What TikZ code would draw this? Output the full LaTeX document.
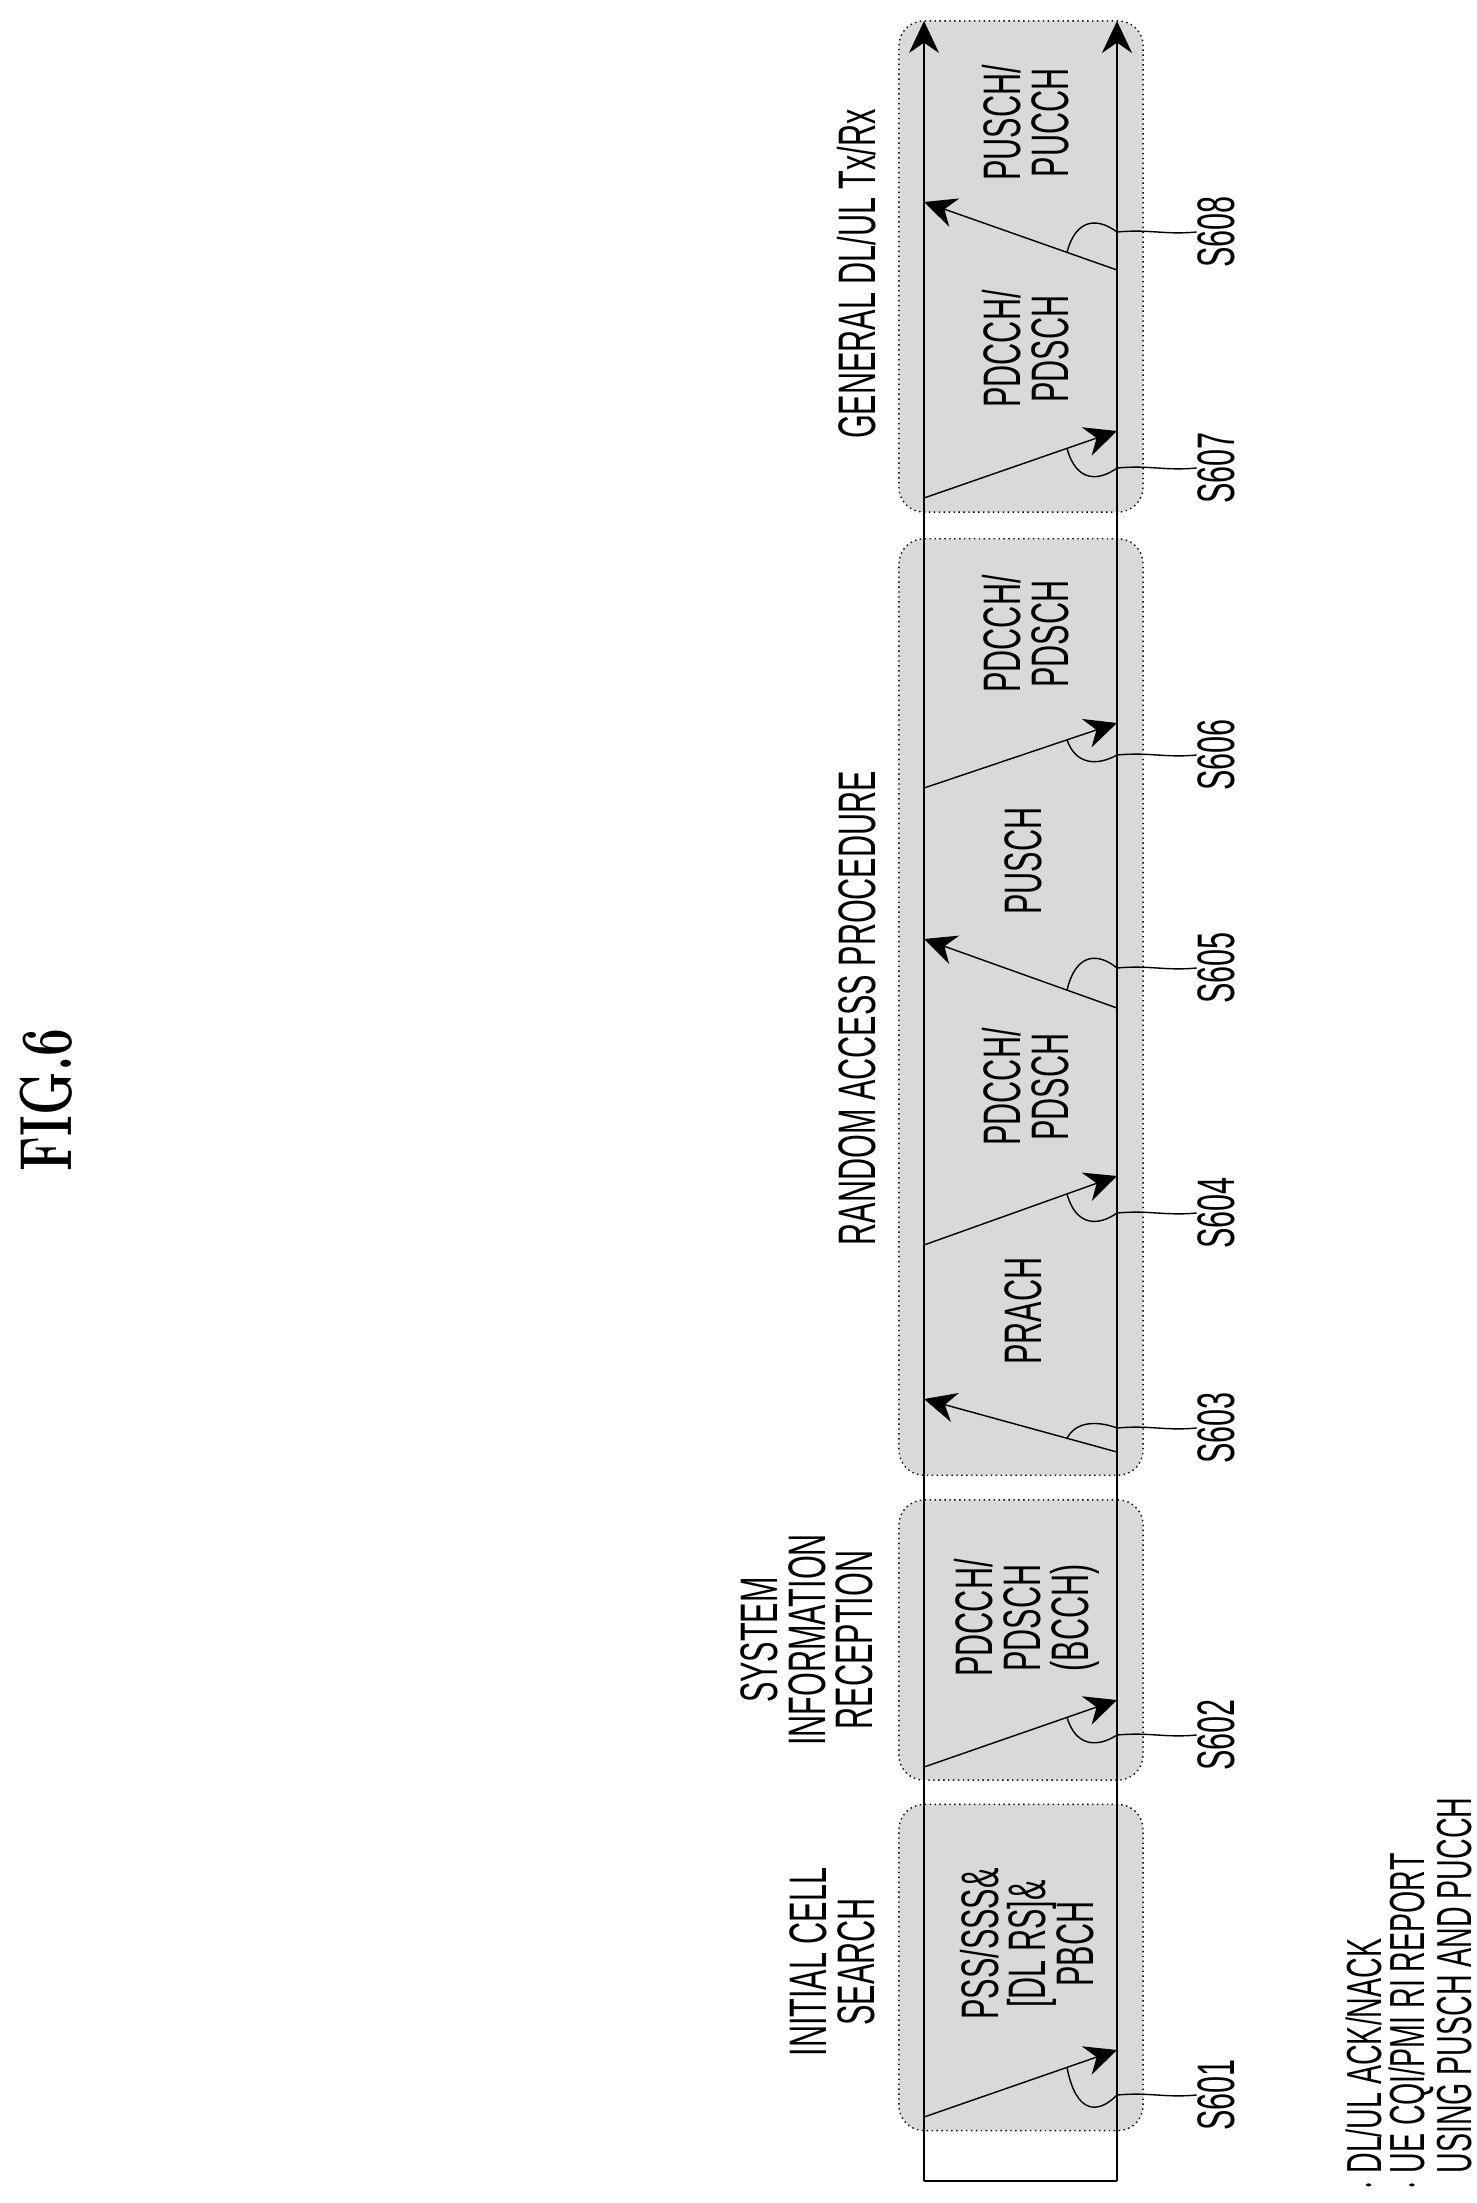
\documentclass[tikz,border=0pt]{standalone}
\usepackage{fontspec}
\setsansfont{Liberation Sans}
\usetikzlibrary{arrows.meta,calc}

\tikzset{
  phase/.style={draw,densely dotted,fill=gray!30,rounded corners=0.25cm,minimum width=2.44cm},
  vtext/.style={font=\sffamily\fontsize{15}{13.6}\selectfont,align=center,rotate=90,xscale=0.58,inner sep=0pt},
  steplbl/.style={vtext,anchor=center},
  msg/.style={thin,-{Stealth[length=3.2mm,width=3mm]}},
  lead/.style={thin}
}

\begin{document}
\begin{tikzpicture}[x=0.01cm,y=-0.01cm]
    \useasboundingbox (0,0) rectangle (1477,2203);

    \node[rotate=90,xscale=0.67,font=\bfseries\fontsize{21}{21}\selectfont] (fig) at (46,1100) {FIG.6};

    % phases
    \node[phase,minimum height=4.91cm] (b4) at (1021,266.5) {};
    \node[phase,minimum height=9.36cm] (b3) at (1021,1007) {};
    \node[phase,minimum height=2.80cm] (b2) at (1021,1640) {};
    \node[phase,minimum height=3.26cm] (b1) at (1021,1967.5) {};

    % time lines
    \coordinate (enbBot) at (924,2181);
    \coordinate (enbTop) at (924,21);
    \coordinate (ueBot) at (1117,2181);
    \coordinate (ueTop) at (1117,21);
    \draw[msg,thick] (enbBot) -- (enbTop);
    \draw[msg,thick] (ueBot) -- (ueTop);
    \draw[thick] (enbBot) -- (ueBot);

    % titles
    \node[vtext] (tinit) at (832,1962) {INITIAL CELL\\SEARCH};
    \node[vtext] (tsys) at (807,1640) {SYSTEM\\INFORMATION\\RECEPTION};
    \node[vtext] (trach) at (857,1008) {RANDOM ACCESS PROCEDURE};
    \node[vtext] (tgen) at (857,274) {GENERAL DL/UL Tx/Rx};

    % channels
    \node[vtext] (c1) at (1027,1944) {PSS/SSS\&\\{[}DL RS{]}\&\\PBCH};
    \node[vtext] (c2) at (1027,1618) {PDCCH/\\PDSCH\\(BCCH)};
    \node[vtext] (c3) at (1023,1311) {PRACH};
    \node[vtext] (c4) at (1026,1087) {PDCCH/\\PDSCH};
    \node[vtext] (c5) at (1023,861) {PUSCH};
    \node[vtext] (c6) at (1026,634) {PDCCH/\\PDSCH};
    \node[vtext] (c7) at (1026,349) {PDCCH/\\PDSCH};
    \node[vtext] (c8) at (1026,123) {PUSCH/\\PUCCH};

    % messages: number/from y/to y/dir/label y
    \foreach \n/\s/\t/\d/\L in {1/2117/2050/1/2095, 2/1767/1700/1/1735, 3/1452/1399/0/1428,
                               4/1245/1176/1/1213, 5/1008/939/0/968, 6/788/723/1/755,
                               7/498/431/1/468, 8/270/202/0/232} {
      \ifnum\d=1
        \coordinate (m\n a) at (924,\s);
        \coordinate (m\n b) at (1117,\t);
        \pgfmathsetmacro\yp{\s-143*(\s-\t)/193}
      \else
        \coordinate (m\n a) at (1117,\s);
        \coordinate (m\n b) at (924,\t);
        \pgfmathsetmacro\yp{\s-50*(\s-\t)/193}
      \fi
      \draw[msg] (m\n a) -- (m\n b);
      \coordinate (p\n) at (1067,\yp);
      \pgfmathsetmacro\ya{\L+0.7*(\L-\yp)}
      \node[steplbl] (s\n) at (1216,\L) {S60\n};
      \draw[lead] (p\n) .. controls (1076,\ya) and (1098,\ya) .. (1117,\L)
                 .. controls (1150,\L-3) and (1165,\L+3) .. (s\n.north);
    }

    % legend
    \node[vtext,font=\sffamily\fontsize{14}{12.3}\selectfont,align=left,anchor=north west] (note) at (1345,2190)
      {$\cdot$ DL/UL ACK/NACK\\$\cdot$ UE CQI/PMI RI REPORT\\\phantom{$\cdot$ }USING PUSCH AND PUCCH};
\end{tikzpicture}
\end{document}
